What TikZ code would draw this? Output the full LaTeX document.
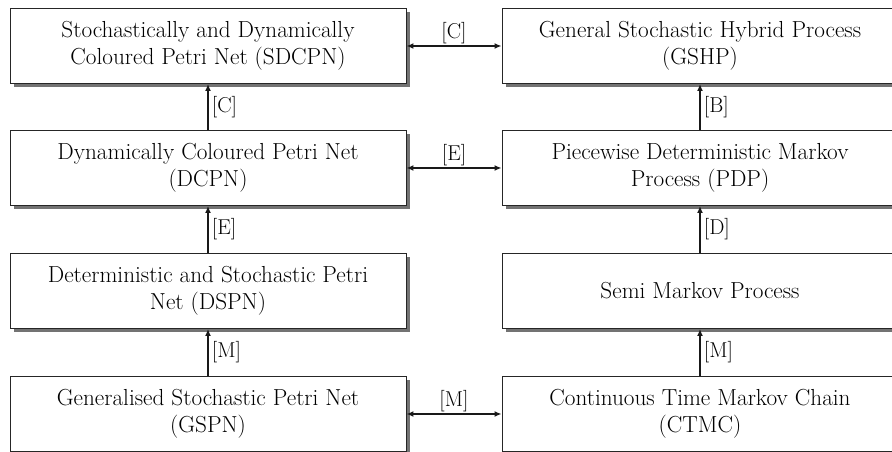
\documentclass[tikz,border=0pt]{standalone}
\usepackage{fontspec}
\usetikzlibrary{arrows.meta,shadows}
\begin{document}
\begin{tikzpicture}[x=1pt,y=1pt,
  box/.style={draw=black!85, line width=0.9pt, fill=white, minimum width=396pt, minimum height=75pt,
    align=center, font=\fontsize{23.2}{27}\selectfont, text=black, inner sep=0pt,
    drop shadow={shadow xshift=4pt, shadow yshift=-4pt, fill=black!55, opacity=1}},
  conn/.style={line width=1.8pt, draw=black!90, -{Latex[length=7pt,width=6pt]}},
  biconn/.style={line width=1.8pt, draw=black!90, {Latex[length=7pt,width=6pt]}-{Latex[length=7pt,width=6pt]}},
  lbl/.style={font=\fontsize{21.5}{24}\selectfont, text=black, inner sep=1pt}]
\useasboundingbox (0,0) rectangle (892,452);
\clip (0,0) rectangle (892,452);
\node[box] (sdcpn) at (208,406) {Stochastically and Dynamically\\Coloured Petri Net (SDCPN)};
\node[box] (gshp) at (700,406) {General Stochastic Hybrid Process\\(GSHP)};
\node[box] (dcpn) at (208,284) {Dynamically Coloured Petri Net\\(DCPN)};
\node[box] (pdp) at (700,284) {Piecewise Deterministic Markov\\Process (PDP)};
\node[box] (dspn) at (208,161) {Deterministic and Stochastic Petri\\Net (DSPN)};
\node[box] (smp) at (700,161) {Semi Markov Process};
\node[box] (gspn) at (208,38) {Generalised Stochastic Petri Net\\(GSPN)};
\node[box] (ctmc) at (700,38) {Continuous Time Markov Chain\\(CTMC)};
\draw[biconn] (sdcpn.east) -- node[lbl, above=0pt] (l1) {[C]} (gshp.west);
\draw[biconn] (dcpn.east) -- node[lbl, above=0pt] (l2) {[E]} (pdp.west);
\draw[biconn] (gspn.east) -- node[lbl, above=0pt] (l3) {[M]} (ctmc.west);
\draw[conn] (dcpn.north) -- node[lbl, right=2pt] (l4) {[C]} (sdcpn.south);
\draw[conn] (dspn.north) -- node[lbl, right=2pt] (l5) {[E]} (dcpn.south);
\draw[conn] (gspn.north) -- node[lbl, right=2pt] (l6) {[M]} (dspn.south);
\draw[conn] (pdp.north) -- node[lbl, right=2pt] (l7) {[B]} (gshp.south);
\draw[conn] (smp.north) -- node[lbl, right=2pt] (l8) {[D]} (pdp.south);
\draw[conn] (ctmc.north) -- node[lbl, right=2pt] (l9) {[M]} (smp.south);
\end{tikzpicture}
\end{document}
